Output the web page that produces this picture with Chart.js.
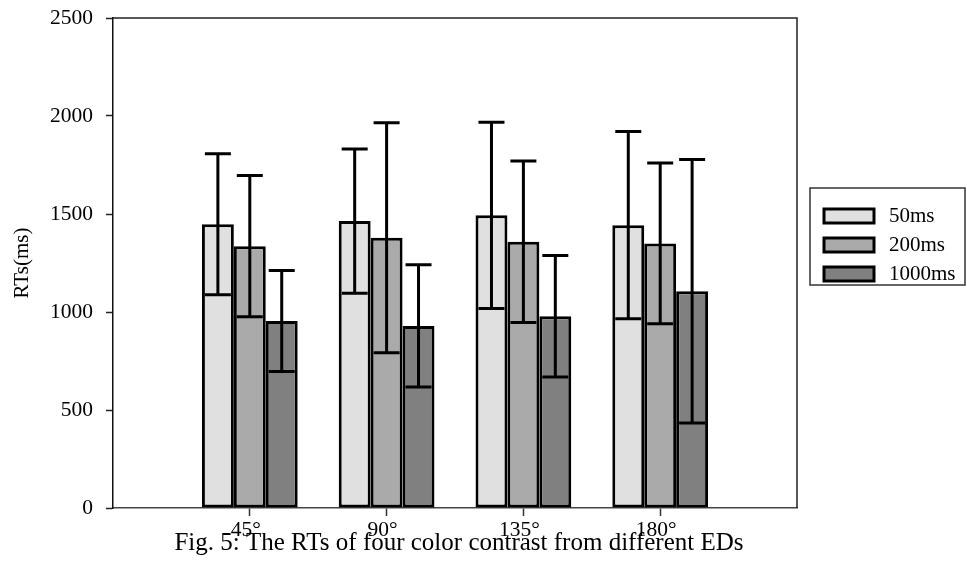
<!DOCTYPE html>
<html>
<head>
<meta charset="utf-8">
<script src="https://cdn.jsdelivr.net/npm/chart.js@4.4.1/dist/chart.umd.min.js"></script>
<style>
  html, body { margin: 0; padding: 0; background: #fff; }
  #wrap { width: 967px; height: 567px; position: relative; }
</style>
</head>
<body>
<div id="wrap"><canvas id="rtChart"></canvas></div>
<script>
// categories and values
const categories = ['45°', '90°', '135°', '180°'];
const seriesNames = ['50ms', '200ms', '1000ms'];
const rt50 = [1448, 1464, 1493, 1443];
const err50 = [360, 368, 475, 478];
const rt200 = [1336, 1379, 1358, 1350];
const err200 = [360, 587, 412, 410];
const rt1000 = [954, 929, 978, 1106];
const err1000 = [258, 312, 310, 672];
const yTicks = [0, 500, 1000, 1500, 2000, 2500];
const caption = 'Fig. 5: The RTs of four color contrast from different EDs';

const fills = ['#e0e0e0', '#aaaaaa', '#808080'];
const serif = '"Liberation Serif", "Times New Roman", serif';

// empty slot on each side so the groups sit at 1..4 of 0..5
const labels = [''].concat(categories, ['']);
const pad = arr => [null].concat(arr, [null]);

const values = [rt50, rt200, rt1000];
const errors = [err50, err200, err1000];

const datasets = seriesNames.map((name, i) => ({
    label: name,
    data: pad(values[i]),
    errors: pad(errors[i]),
    backgroundColor: fills[i],
    borderColor: '#000',
    borderWidth: 3,
    borderSkipped: false,
    categoryPercentage: 0.7,
    barPercentage: 1.0
}));

// error bars drawn from the y scale
const errorBars = {
    id: 'errorBars',
    afterDatasetsDraw(chart) {
        const ctx = chart.ctx;
        const y = chart.scales.y;
        ctx.save();
        ctx.strokeStyle = '#000';
        ctx.lineWidth = 3;
        chart.data.datasets.forEach((ds, i) => {
            const meta = chart.getDatasetMeta(i);
            meta.data.forEach((bar, j) => {
                const v = ds.data[j];
                const e = ds.errors[j];
                if (v == null || e == null) return;
                const top = y.getPixelForValue(v + e);
                const bot = y.getPixelForValue(v - e);
                const half = 13;
                ctx.beginPath();
                ctx.moveTo(bar.x, top);
                ctx.lineTo(bar.x, bot);
                ctx.moveTo(bar.x - half, top);
                ctx.lineTo(bar.x + half, top);
                ctx.moveTo(bar.x - half, bot);
                ctx.lineTo(bar.x + half, bot);
                ctx.stroke();
            });
        });
        ctx.restore();
    }
};

// top/right frame, boxed legend and the figure caption
const extras = {
    id: 'extras',
    afterDraw(chart) {
        const ctx = chart.ctx;
        const a = chart.chartArea;
        ctx.save();
        ctx.strokeStyle = '#222';
        ctx.lineWidth = 1.5;
        ctx.beginPath();
        ctx.moveTo(a.left, a.top);
        ctx.lineTo(a.right, a.top);
        ctx.lineTo(a.right, a.bottom);
        ctx.stroke();

        // legend
        const lx = a.right + 13;
        const ly = 188;
        ctx.strokeStyle = '#333';
        ctx.strokeRect(lx, ly, 155, 97);
        ctx.font = '21px ' + serif;
        ctx.textBaseline = 'middle';
        ctx.textAlign = 'left';
        chart.data.datasets.forEach((ds, i) => {
            const cy = ly + 28 + i * 29;
            ctx.fillStyle = ds.backgroundColor;
            ctx.fillRect(lx + 14, cy - 7, 50, 14);
            ctx.strokeStyle = '#000';
            ctx.lineWidth = 3;
            ctx.strokeRect(lx + 14, cy - 7, 50, 14);
            ctx.fillStyle = '#000';
            ctx.fillText(ds.label, lx + 79, cy);
        });

        ctx.font = '25px ' + serif;
        ctx.textAlign = 'center';
        ctx.textBaseline = 'alphabetic';
        ctx.fillStyle = '#000';
        ctx.fillText(caption, (a.left + a.right) / 2 + 4, 550);
        ctx.restore();
    }
};

new Chart(document.getElementById('rtChart').getContext('2d'), {
    type: 'bar',
    data: { labels: labels, datasets: datasets },
    options: {
        responsive: true,
        maintainAspectRatio: false,
        animation: false,
        layout: { padding: { top: 18, right: 170, left: 0, bottom: 0 } },
        plugins: {
            legend: { display: false },
            tooltip: { enabled: false }
        },
        scales: {
            x: {
                offset: false,
                grid: {
                    offset: false,
                    drawOnChartArea: false,
                    tickLength: 8,
                    tickWidth: 1.5,
                    tickColor: c => (c.index === 0 || c.index === labels.length - 1) ? 'rgba(0,0,0,0)' : '#333'
                },
                border: { color: '#444', width: 1.5 },
                ticks: {
                    color: '#000',
                    font: { family: serif, size: 21.5 },
                    padding: 1,
                    labelOffset: -4,
                    maxRotation: 0,
                    autoSkip: false
                },
                afterFit: s => { s.height = 59; s.paddingLeft = 0; s.paddingRight = 0; }
            },
            y: {
                min: 0,
                max: 2500,
                afterBuildTicks: s => { s.ticks = yTicks.map(v => ({ value: v })); },
                grid: { drawOnChartArea: false, tickLength: 7, tickWidth: 1.5, tickColor: '#222' },
                border: { color: '#111', width: 1.5 },
                ticks: {
                    color: '#000',
                    font: { family: serif, size: 21.5 },
                    padding: 13,
                    callback: v => String(v)
                },
                title: {
                    display: true,
                    text: 'RTs(ms)',
                    color: '#000',
                    font: { family: serif, size: 21 },
                    padding: { top: 10, bottom: 0 }
                },
                afterFit: s => { s.width = 113; s.paddingTop = 0; s.paddingBottom = 0; }
            }
        }
    },
    plugins: [errorBars, extras]
});
</script>
</body>
</html>
